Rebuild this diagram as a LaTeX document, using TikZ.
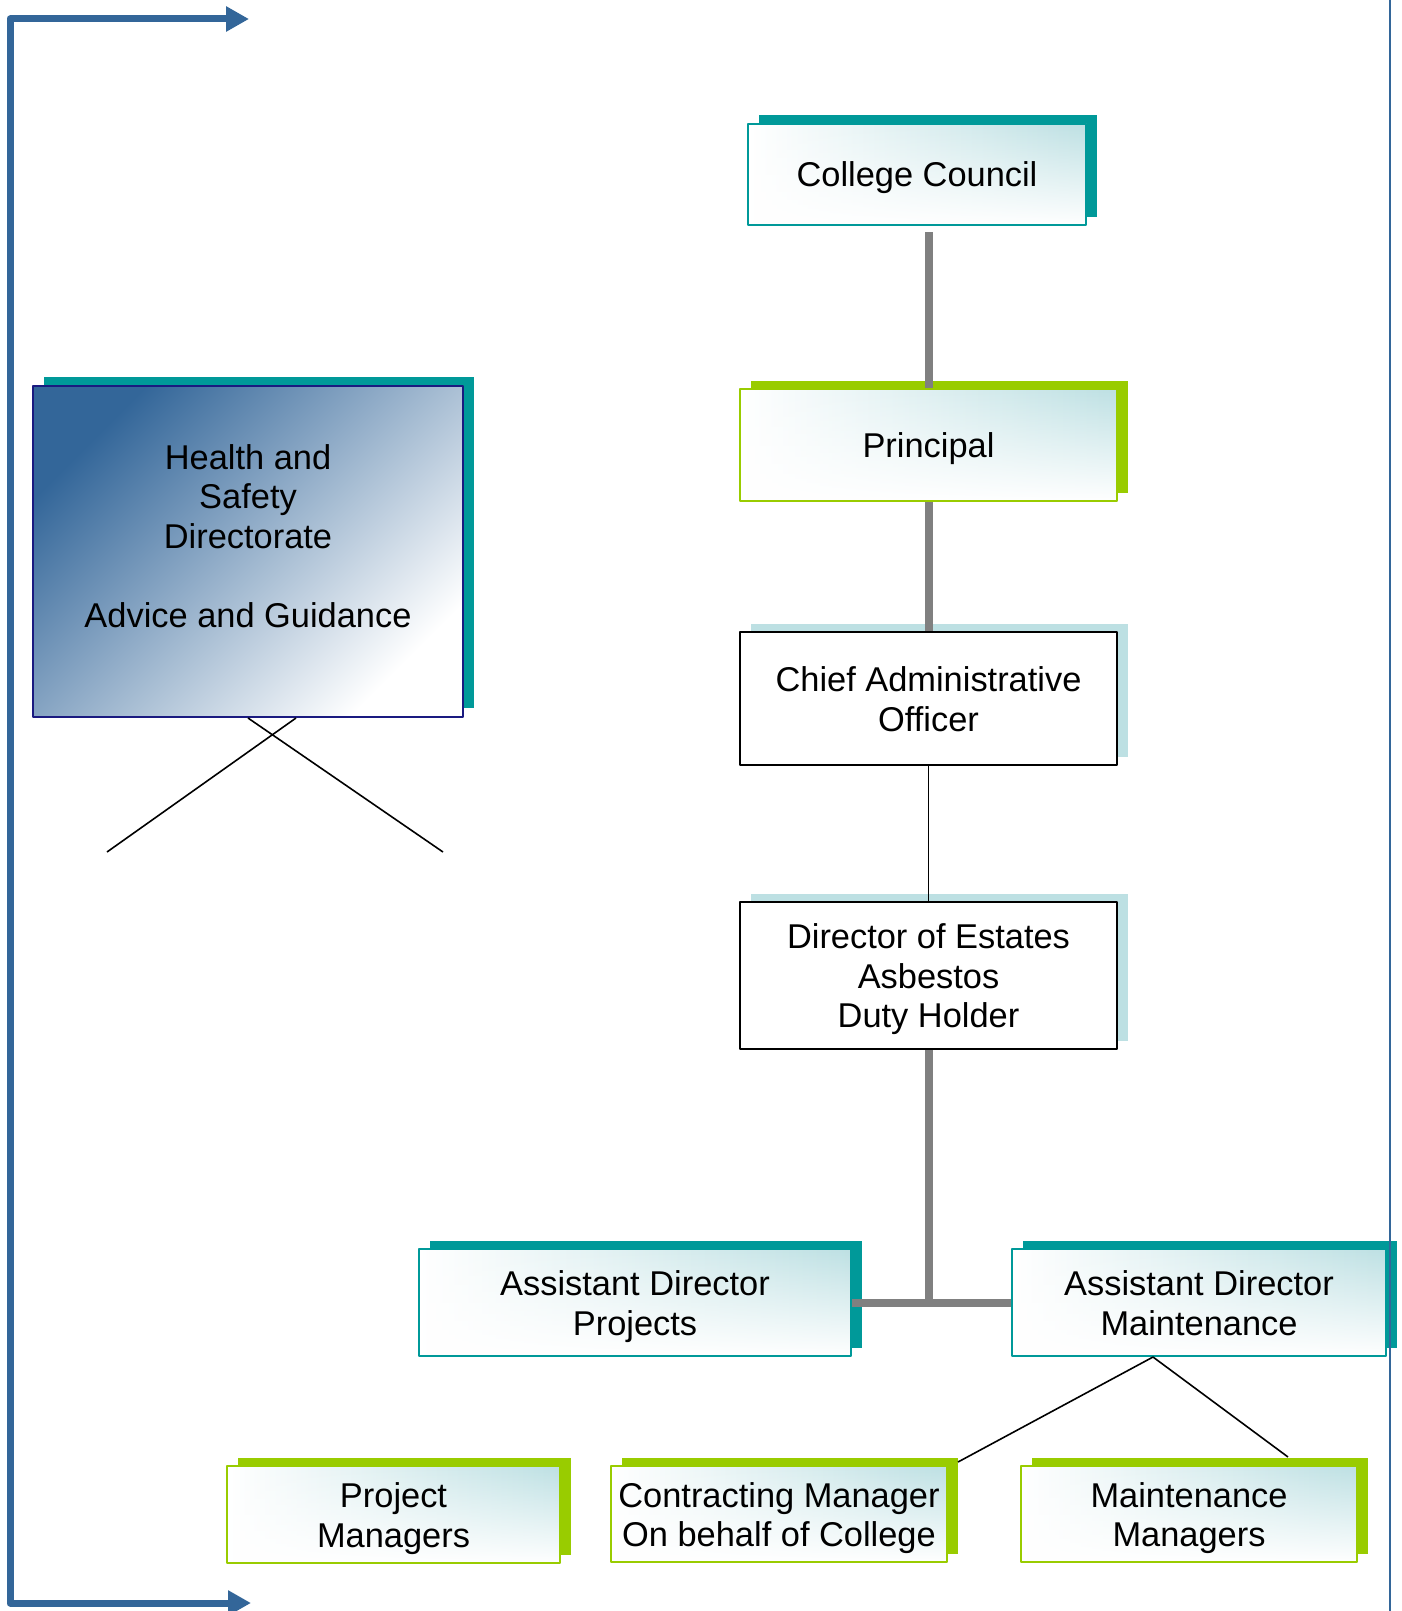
\documentclass[tikz,border=0pt]{standalone}
\usepackage{fontspec}
\setmainfont{Liberation Sans}
\usetikzlibrary{arrows.meta,shadows,fadings}
\definecolor{tealc}{HTML}{009999}
\definecolor{limec}{HTML}{99CC00}
\definecolor{lbc}{HTML}{BDE0E3}
\definecolor{framec}{HTML}{336699}
\definecolor{navyc}{HTML}{1A1A80}
\definecolor{grayc}{HTML}{808080}
\newcommand{\topstrut}{\rule{0pt}{16.6pt}}
\begin{document}
\begin{tikzpicture}[x=0.5pt,y=-0.5pt, line join=round, font=\fontsize{17.2}{19.75}\selectfont,
	box/.style={rectangle, inner sep=0pt, align=center, line width=1pt,
		execute at end node=\rule[-3.8pt]{0pt}{3.8pt}},
	oneline/.style={execute at begin node=\rule{0pt}{16.1pt}},
	softfill/.style={left color=white, right color=lbc, middle color=lbc!50,
		path picture={\fill[white, path fading=north] (path picture bounding box.south west) rectangle (path picture bounding box.north east);}},
	tealbox/.style={box, draw=tealc, softfill, general shadow={fill=tealc, draw=none, shadow xshift=5.5pt, shadow yshift=4.25pt}},
	limebox/.style={box, draw=limec, softfill, general shadow={fill=limec, draw=none, shadow xshift=5.5pt, shadow yshift=4.25pt}},
	plainbox/.style={box, draw=black, fill=white, general shadow={fill=lbc, draw=none, shadow xshift=5.5pt, shadow yshift=4pt}},
	hsbox/.style={box, draw=navyc, top color=framec, bottom color=white, shading angle=45,
		execute at end node=\rule[-19.8pt]{0pt}{19.8pt},
		general shadow={fill=tealc, draw=none, shadow xshift=5.5pt, shadow yshift=4.5pt}},
	graylink/.style={draw=grayc, line width=4pt},
	thinlink/.style={draw=black, line width=0.8pt},
	frame/.style={draw=framec, line width=3.5pt, {Triangle[length=11.5pt,width=12pt]}-{Triangle[length=11.5pt,width=12pt]}}]
	\useasboundingbox (0,0) rectangle (1402,1611);
	%% main chain
	\node[tealbox, oneline, minimum width=169pt, minimum height=50.5pt] (council) at (917,174.5) {College Council};
	\node[limebox, oneline, minimum width=188.5pt, minimum height=56pt] (principal) at (928.5,445) {Principal};
	\node[plainbox, minimum width=188.5pt, minimum height=66.5pt] (cao) at (928.5,698.5) {\topstrut Chief Administrative\\Officer};
	\node[plainbox, minimum width=188.5pt, minimum height=73.5pt] (doe) at (928.5,975.5) {\topstrut Director of Estates\\Asbestos\\Duty Holder};
	%% assistants
	\node[tealbox, minimum width=216pt, minimum height=53.5pt] (adp) at (635,1302.5) {\topstrut Assistant Director\\Projects};
	\node[tealbox, minimum width=187pt, minimum height=53.5pt] (adm) at (1199,1302.5) {\topstrut Assistant Director\\Maintenance};
	%% managers
	\node[limebox, minimum width=166.5pt, minimum height=48.5pt] (pm) at (393.5,1514.5) {\topstrut Project\\Managers};
	\node[limebox, minimum width=168pt, minimum height=48pt] (cm) at (779,1514) {\topstrut Contracting Manager\\On behalf of College};
	\node[limebox, minimum width=168pt, minimum height=48pt] (mm) at (1189,1514) {\topstrut Maintenance\\Managers};
	%% advice box
	\node[hsbox, minimum width=215pt, minimum height=165.5pt] (hs) at (248,551.5) {\topstrut Health and\\Safety\\Directorate\\[19.75pt]Advice and Guidance};
	%% free ends
	\coordinate (hsleft) at (107,852);
	\coordinate (hsright) at (443,852);
	\coordinate (cmend) at (958,1462);
	\coordinate (mmend) at (1288,1457);
	\coordinate (ftop) at (249,19);
	\coordinate (fcorner) at (10,1603);
	\coordinate (fbot) at (251,1603);
	\coordinate (rtop) at (1390,0);
	\coordinate (rbot) at (1390,1611);
	%% connectors
	\draw[graylink, shorten >=3pt] (principal.north) -- (principal.north |- council.south);
	\draw[graylink] (principal.south) -- (cao.north);
	\draw[thinlink] (cao.south) -- (doe.north);
	\draw[graylink] (doe.south) -- (doe.south |- adp.east);
	\draw[graylink] (adp.east) -- (adm.west);
	\draw[thinlink] ([xshift=-23pt]adm.south) -- (cmend);
	\draw[thinlink] ([xshift=-23pt]adm.south) -- (mmend);
	\draw[thinlink] (hs.south) -- (hsright);
	\draw[thinlink] ([xshift=24pt]hs.south) -- (hsleft);
	%% frame
	\draw[frame] (ftop) -| (fcorner) -- (fbot);
	\draw[draw=framec, line width=1pt] (rtop) -- (rbot);
\end{tikzpicture}
\end{document}
